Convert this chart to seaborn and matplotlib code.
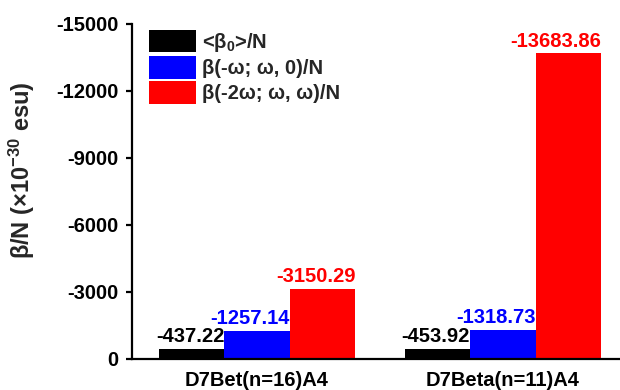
import matplotlib
matplotlib.use("Agg")
import matplotlib.pyplot as plt
import seaborn as sns
import pandas as pd

# Hyperpolarizability per unit for the two oligomers
compounds = ["D7Bet(n=16)A4", "D7Beta(n=11)A4"]
quantities = ["<β$_0$>/N", "β(-ω; ω, 0)/N", "β(-2ω; ω, ω)/N"]
beta0 = [-437.22, -453.92]
beta_eo = [-1257.14, -1318.73]
beta_shg = [-3150.29, -13683.86]
value_labels = [["-437.22", "-453.92"],
                ["-1257.14", "-1318.73"],
                ["-3150.29", "-13683.86"]]
colors = ["#000000", "#0000FF", "#FF0000"]
yticks = [0, -3000, -6000, -9000, -12000, -15000]

FS = 14.5

sns.set_style("ticks")
plt.rcParams["font.family"] = ["Liberation Sans", "DejaVu Sans"]
plt.rcParams["font.weight"] = "bold"
plt.rcParams["mathtext.fontset"] = "custom"
plt.rcParams["mathtext.rm"] = "Liberation Sans:bold"
plt.rcParams["mathtext.it"] = "Liberation Sans:bold"
plt.rcParams["mathtext.bf"] = "Liberation Sans:bold"

df = pd.DataFrame({
    "compound": compounds * 3,
    "quantity": [q for q in quantities for _ in compounds],
    "value": beta0 + beta_eo + beta_shg,
})

fig = plt.figure(figsize=(6.2, 3.9), dpi=100)
ax = fig.add_axes([0.2129, 0.0795, 0.7871, 0.859])

sns.barplot(data=df, x="compound", y="value", hue="quantity",
            order=compounds, hue_order=quantities, palette=colors,
            width=0.8, saturation=1, linewidth=0, errorbar=None, ax=ax)

ax.set_ylim(0, -15000)
ax.set_yticks(yticks)
ax.set_yticklabels([str(t) for t in yticks])
ax.set_xlim(-0.508, 1.476)

# value annotations, right-aligned to each bar's right edge
for container, texts, col in zip(ax.containers, value_labels, colors):
    for bar, txt in zip(container, texts):
        ax.annotate(txt, (bar.get_x() + bar.get_width(), bar.get_height()),
                    xytext=(0, 2), textcoords="offset points",
                    ha="right", va="bottom", color=col,
                    fontsize=FS, fontweight="bold")

ax.set_xlabel("")
ax.set_ylabel("β/N (×10$^{-30}$ esu)", fontsize=17, fontweight="bold")
ax.yaxis.set_label_coords(-0.195, 0.564)

for s in ["top", "right"]:
    ax.spines[s].set_visible(False)
for s in ["left", "bottom"]:
    ax.spines[s].set_linewidth(1.6)
    ax.spines[s].set_color("black")

ax.tick_params(axis="y", length=4.5, width=1.6, pad=5, labelsize=FS, colors="black")
ax.tick_params(axis="x", length=0, pad=9, labelsize=FS, colors="black")
for lab in ax.get_xticklabels() + ax.get_yticklabels():
    lab.set_fontweight("bold")

ax.legend(loc="upper left", bbox_to_anchor=(0.035, 0.983), frameon=False,
          fontsize=FS, handlelength=2.35, handleheight=1.35,
          handletextpad=0.3, labelspacing=0.12, borderpad=0,
          borderaxespad=0)

fig.savefig("out.png", dpi=100)
